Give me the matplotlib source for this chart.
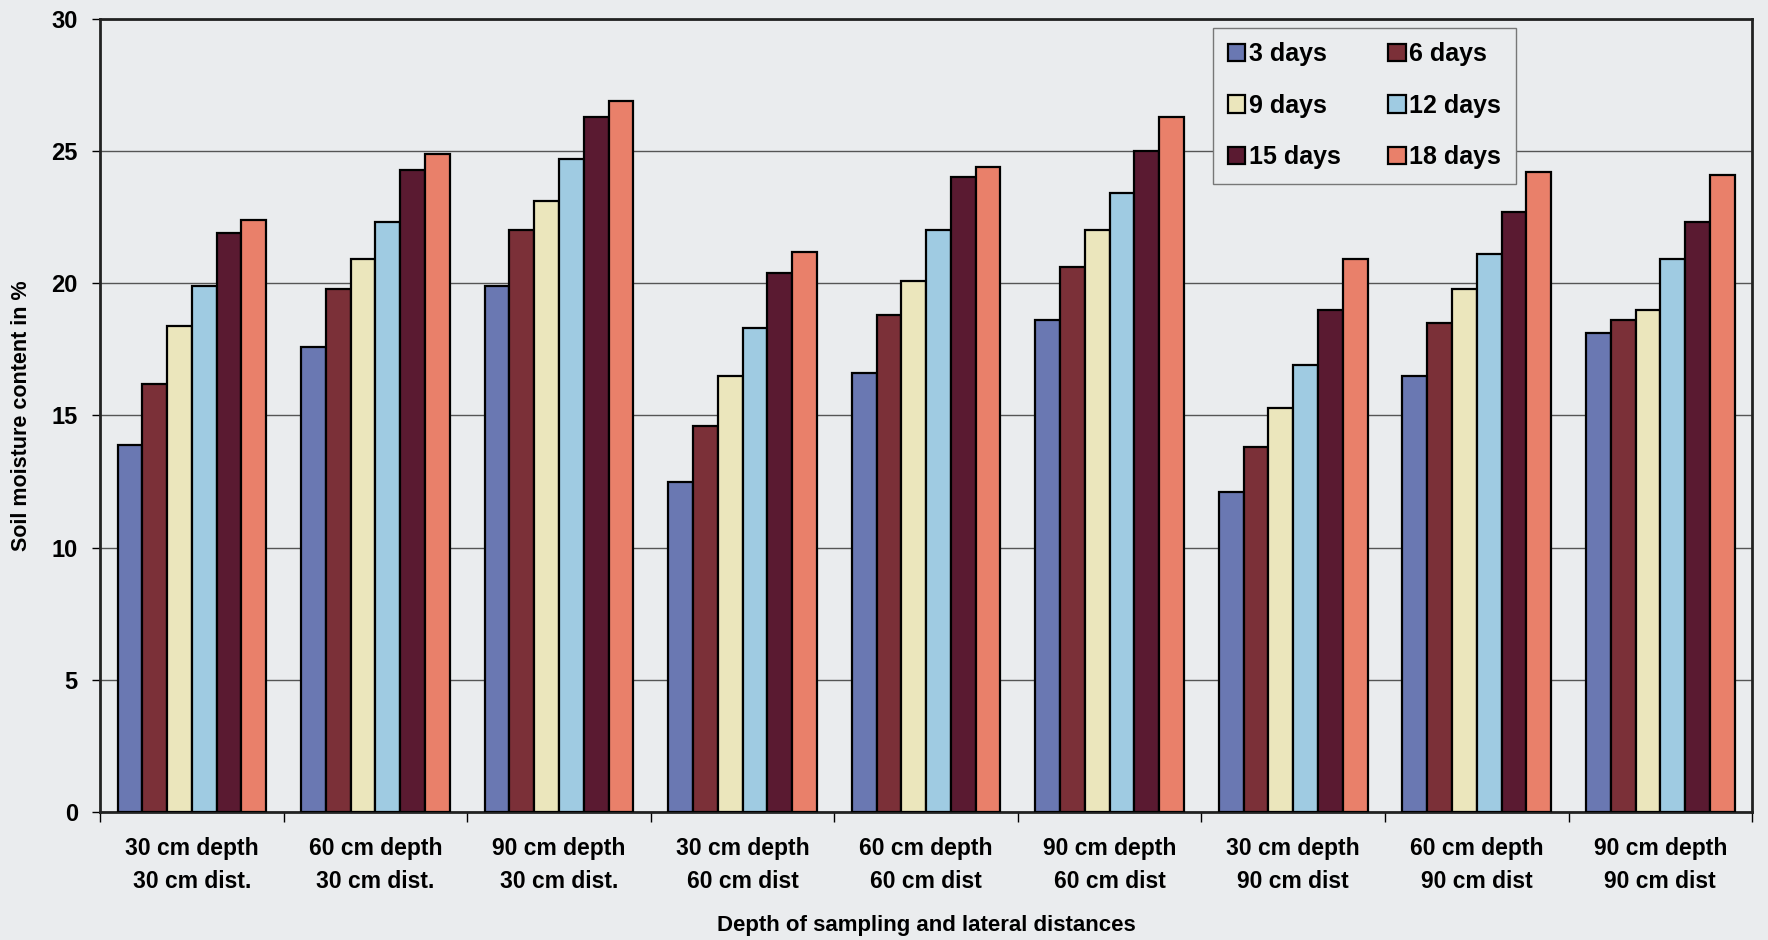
import numpy as np
import matplotlib.pyplot as plt

# Soil moisture (%) by sampling position and days after irrigation
groups = ["30 cm depth\n30 cm dist.", "60 cm depth\n30 cm dist.", "90 cm depth\n30 cm dist.",
          "30 cm depth\n60 cm dist", "60 cm depth\n60 cm dist", "90 cm depth\n60 cm dist",
          "30 cm depth\n90 cm dist", "60 cm depth\n90 cm dist", "90 cm depth\n90 cm dist"]
series = ["3 days", "6 days", "9 days", "12 days", "15 days", "18 days"]

d3 = [13.9, 17.6, 19.9, 12.5, 16.6, 18.6, 12.1, 16.5, 18.1]
d6 = [16.2, 19.8, 22.0, 14.6, 18.8, 20.6, 13.8, 18.5, 18.6]
d9 = [18.4, 20.9, 23.1, 16.5, 20.1, 22.0, 15.3, 19.8, 19.0]
d12 = [19.9, 22.3, 24.7, 18.3, 22.0, 23.4, 16.9, 21.1, 20.9]
d15 = [21.9, 24.3, 26.3, 20.4, 24.0, 25.0, 19.0, 22.7, 22.3]
d18 = [22.4, 24.9, 26.9, 21.2, 24.4, 26.3, 20.9, 24.2, 24.1]
values = [d3, d6, d9, d12, d15, d18]

colors = ["#6a78b2", "#7b3038", "#ebe6bc", "#9fcbe2", "#5a1a31", "#e9806a"]
bg = "#eaecee"

plt.rcParams['font.family'] = ['Liberation Sans', 'DejaVu Sans']

fig = plt.figure(figsize=(17.68, 9.4), dpi=100, facecolor=bg)
ax = fig.add_axes([0.0566, 0.136, 0.9344, 0.844], facecolor=bg)

x = np.arange(len(groups))
w = 0.135
bars = []
for i, (vals, c) in enumerate(zip(values, colors)):
    b = ax.bar(x + (i - 2.5) * w, vals, width=w, color=c, edgecolor="black",
               linewidth=1.6, label=series[i], zorder=3)
    bars.append(b)

ax.set_ylim(0, 30)
ax.set_xlim(-0.5, len(groups) - 0.5)
ax.set_yticks(range(0, 31, 5))
ax.yaxis.grid(True, color="#555555", linewidth=1.0, zorder=0)
ax.tick_params(axis="y", labelsize=17, length=6, width=1, pad=10)

ax.set_xticks(x)
ax.set_xticklabels(groups, fontsize=16.5, fontweight="bold", linespacing=1.55)
ax.set_xticks(np.arange(-0.5, len(groups)), minor=True)
ax.tick_params(axis="x", which="major", length=0, pad=18)
ax.tick_params(axis="x", which="minor", length=7, width=1)
for lbl in ax.get_yticklabels():
    lbl.set_fontweight("bold")

for s in ax.spines.values():
    s.set_linewidth(2)
    s.set_color("#222222")

ax.set_ylabel("Soil moisture content in %", fontsize=15.5, fontweight="bold", labelpad=14)
ax.set_xlabel("Depth of sampling and lateral distances", fontsize=16, fontweight="bold", labelpad=16)

order = [0, 2, 4, 1, 3, 5]
leg = ax.legend([bars[i] for i in order], [series[i] for i in order], ncol=2,
                loc="upper right", bbox_to_anchor=(0.857, 0.989), borderaxespad=0,
                prop={"size": 18, "weight": "bold"},
                handlelength=0.7, handleheight=0.7, handletextpad=0.15,
                columnspacing=1.9, labelspacing=1.1, borderpad=0.58,
                fancybox=False, facecolor=bg, edgecolor="#777777", framealpha=1)
leg.set_zorder(5)

plt.savefig("out.png", dpi=100, facecolor=bg)
